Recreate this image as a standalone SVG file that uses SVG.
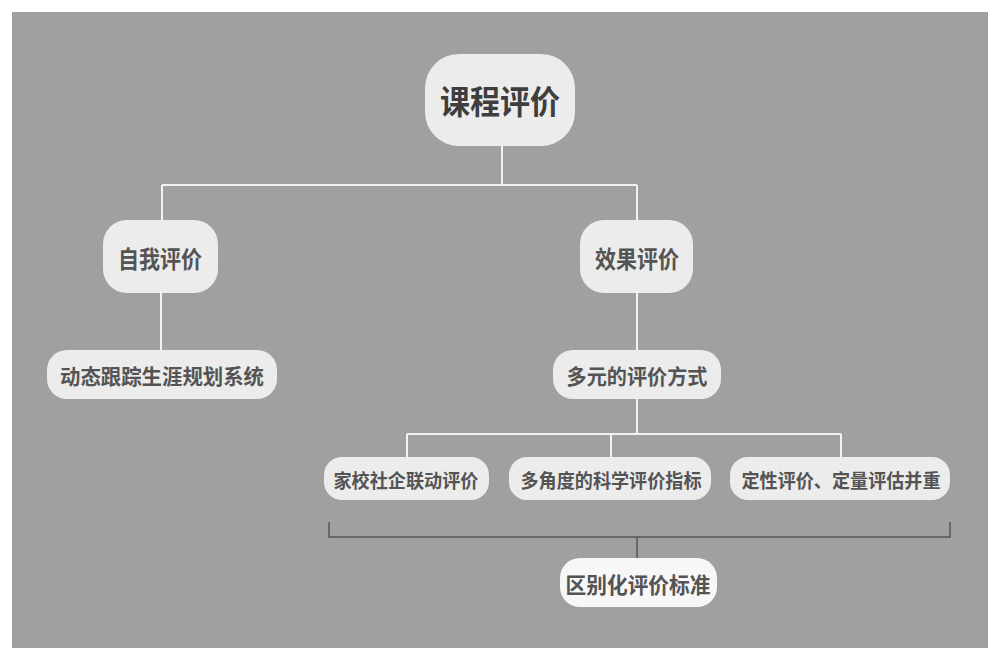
<svg xmlns="http://www.w3.org/2000/svg" width="996" height="667" viewBox="0 0 996 667">
<style>
text{font-family:"Noto Sans CJK SC","Noto Sans CJK TC",sans-serif;font-weight:bold;fill:#545454;text-anchor:middle;dominant-baseline:central}
.node{fill:#ececec}
.conn{stroke:#f2f2f2;stroke-width:2;fill:none}
.bracket{stroke:#555;stroke-width:1.5;fill:none}
</style>
<rect x="0" y="0" width="996" height="667" fill="#ffffff"/>
<rect x="12" y="12" width="976" height="636" fill="#a0a0a0"/>
<g id="connectors">
<path class="conn" d="M502 146V185M162 185H637M162 185V220M637 185V220"/>
<path class="conn" d="M161 293V350"/>
<path class="conn" d="M637 293V350"/>
<path class="conn" d="M637 399V434M407 434H841M407 434V457M611 434V457M841 434V457"/>
<path class="bracket" d="M329 522V537H950V522M637 537V558"/>
</g>
<g id="root"><rect class="node" x="425" y="54" width="150" height="92" rx="34"/><text x="500" y="100" font-size="33" textLength="120" lengthAdjust="spacingAndGlyphs" style="fill:#3e3e3e">课程评价</text></g>
<g id="self"><rect class="node" x="103" y="220" width="115" height="73" rx="24"/><text x="160" y="257" font-size="24" textLength="84" lengthAdjust="spacingAndGlyphs">自我评价</text></g>
<g id="effect"><rect class="node" x="580" y="220" width="113" height="73" rx="24"/><text x="637" y="257" font-size="24" textLength="84" lengthAdjust="spacingAndGlyphs">效果评价</text></g>
<g id="track"><rect class="node" x="47" y="350" width="230" height="49" rx="20"/><text x="162" y="375" font-size="21" textLength="204" lengthAdjust="spacingAndGlyphs">动态跟踪生涯规划系统</text></g>
<g id="multi"><rect class="node" x="553" y="350" width="168" height="49" rx="20"/><text x="637" y="375" font-size="21" textLength="141" lengthAdjust="spacingAndGlyphs">多元的评价方式</text></g>
<g id="joint"><rect class="node" x="324" y="457" width="165" height="43" rx="18"/><text x="406" y="479" font-size="19" textLength="145" lengthAdjust="spacingAndGlyphs">家校社企联动评价</text></g>
<g id="angle"><rect class="node" x="509" y="457" width="202" height="43" rx="18"/><text x="611" y="479" font-size="19" textLength="181" lengthAdjust="spacingAndGlyphs">多角度的科学评价指标</text></g>
<g id="quant"><rect class="node" x="730" y="457" width="220" height="43" rx="18"/><text x="841" y="479" font-size="19" textLength="199" lengthAdjust="spacingAndGlyphs">定性评价、定量评估并重</text></g>
<g id="diff"><rect x="560" y="558" width="157" height="49" rx="20" fill="#f7f7f7"/><text x="638" y="583" font-size="22" textLength="145" lengthAdjust="spacingAndGlyphs">区别化评价标准</text></g>
</svg>
